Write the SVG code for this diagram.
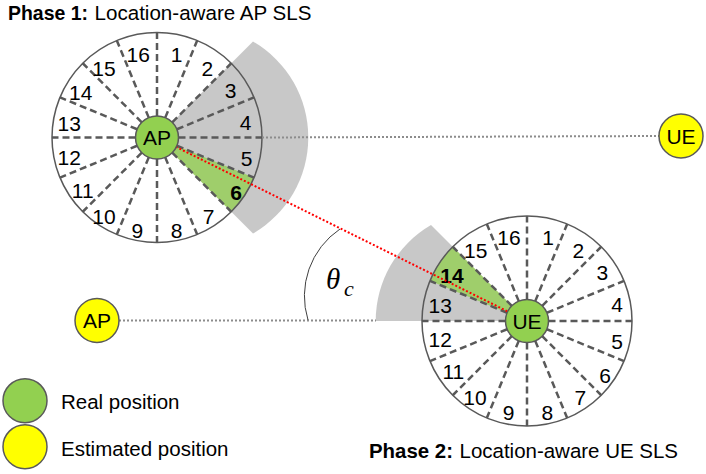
<svg xmlns="http://www.w3.org/2000/svg" xmlns:xlink="http://www.w3.org/1999/xlink" width="706" height="474" viewBox="0 0 706 474">
<style>
.rim{fill:none;stroke:#595959;stroke-width:1.5}
.dash{stroke:#595959;stroke-width:2.5;stroke-dasharray:7 4;fill:none}
.gray{fill:#c8c8c8}
.gsec{fill:#9fce6b}
.num{font-family:"Liberation Sans",Arial,sans-serif;font-size:21px;fill:#000;text-anchor:middle}
.b{font-weight:bold}
.lbl{font-family:"Liberation Sans",Arial,sans-serif;font-size:20.5px;fill:#000}
.node{stroke:#595959;stroke-width:1.5}
.real{fill:#92d050}
.est{fill:#ffff00}
.ntxt{font-family:"Liberation Sans",Arial,sans-serif;font-size:21px;fill:#000;text-anchor:middle}
.dot{stroke:#8c8c8c;stroke-width:2;stroke-dasharray:2 2;fill:none}
.red{stroke:#ff0000;stroke-width:2;stroke-dasharray:2 2;fill:none}
.arc{stroke:#404040;stroke-width:1;fill:none}
.math{font-family:"Liberation Serif","Times New Roman",serif;font-style:italic;fill:#000}
</style>
<defs>
<line id="ray" x1="21.5" y1="0" x2="105" y2="0" class="dash"/>
<g id="rays">
<use xlink:href="#ray" href="#ray" transform="rotate(0)"/>
<use xlink:href="#ray" href="#ray" transform="rotate(22.5)"/>
<use xlink:href="#ray" href="#ray" transform="rotate(45)"/>
<use xlink:href="#ray" href="#ray" transform="rotate(67.5)"/>
<use xlink:href="#ray" href="#ray" transform="rotate(90)"/>
<use xlink:href="#ray" href="#ray" transform="rotate(112.5)"/>
<use xlink:href="#ray" href="#ray" transform="rotate(135)"/>
<use xlink:href="#ray" href="#ray" transform="rotate(157.5)"/>
<use xlink:href="#ray" href="#ray" transform="rotate(180)"/>
<use xlink:href="#ray" href="#ray" transform="rotate(202.5)"/>
<use xlink:href="#ray" href="#ray" transform="rotate(225)"/>
<use xlink:href="#ray" href="#ray" transform="rotate(247.5)"/>
<use xlink:href="#ray" href="#ray" transform="rotate(270)"/>
<use xlink:href="#ray" href="#ray" transform="rotate(292.5)"/>
<use xlink:href="#ray" href="#ray" transform="rotate(315)"/>
<use xlink:href="#ray" href="#ray" transform="rotate(337.5)"/>
</g>
</defs>
<rect width="706" height="474" fill="#fff"/>

<!-- Titles -->
<g id="title-phase1">
<text class="lbl b" x="8" y="20" textLength="80" lengthAdjust="spacingAndGlyphs">Phase 1:</text>
<text class="lbl" x="94.5" y="20" textLength="217" lengthAdjust="spacingAndGlyphs">Location-aware AP SLS</text>
</g>
<g id="title-phase2">
<text class="lbl b" x="369" y="458" textLength="84" lengthAdjust="spacingAndGlyphs">Phase 2:</text>
<text class="lbl" x="459.5" y="458" textLength="218.5" lengthAdjust="spacingAndGlyphs">Location-aware UE SLS</text>
</g>

<!-- AP beam sectors -->
<g id="ap-sectors">
<circle cx="157" cy="137.5" r="105" fill="#fff"/>
<path class="gray" d="M157,137.5 L253,41.5 A111,111 0 0 1 253,233.5 Z"/>
<path class="gsec" d="M157,137.5 L254.01,177.68 A105,105 0 0 1 231.25,211.75 Z"/>
<use xlink:href="#rays" href="#rays" transform="translate(157,137.5)"/>
<circle class="rim" cx="157" cy="137.5" r="105"/>
<text class="num" x="138.3" y="61.5">16</text>
<text class="num" x="176.7" y="61.5">1</text>
<text class="num" x="207.3" y="75.8">2</text>
<text class="num" x="230.7" y="97.8">3</text>
<text class="num" x="245.7" y="129.5">4</text>
<text class="num" x="246.7" y="166.2">5</text>
<text class="num b" x="236" y="199.8">6</text>
<text class="num" x="208.7" y="223.5">7</text>
<text class="num" x="176.7" y="238.2">8</text>
<text class="num" x="137.3" y="238.2">9</text>
<text class="num" x="104" y="223.5">10</text>
<text class="num" x="82.7" y="198.2">11</text>
<text class="num" x="69.3" y="164.8">12</text>
<text class="num" x="69.3" y="131.2">13</text>
<text class="num" x="80.7" y="100.2">14</text>
<text class="num" x="104" y="76.2">15</text>
</g>

<!-- UE beam sectors -->
<g id="ue-sectors">
<circle cx="527" cy="321" r="105" fill="#fff"/>
<path class="gray" d="M527,321 L431,225 A111,111 0 0 0 375.7,321 Z"/>
<path class="gsec" d="M527,321 L429.99,280.82 A105,105 0 0 1 452.75,246.75 Z"/>
<use xlink:href="#rays" href="#rays" transform="translate(527,321)"/>
<circle class="rim" cx="527" cy="321" r="105"/>
<text class="num" x="509" y="244.5">16</text>
<text class="num" x="548" y="244.5">1</text>
<text class="num" x="578.3" y="257.8">2</text>
<text class="num" x="602.3" y="279.8">3</text>
<text class="num" x="617" y="311.5">4</text>
<text class="num" x="617" y="348.5">5</text>
<text class="num" x="605" y="382.5">6</text>
<text class="num" x="580.3" y="404.8">7</text>
<text class="num" x="547.3" y="420.2">8</text>
<text class="num" x="508.7" y="420.2">9</text>
<text class="num" x="475" y="404.8">10</text>
<text class="num" x="453.3" y="379.2">11</text>
<text class="num" x="440.3" y="346.5">12</text>
<text class="num" x="440.3" y="313.2">13</text>
<text class="num b" x="452" y="282.8">14</text>
<text class="num" x="475.7" y="258.2">15</text>
</g>

<!-- Connectors -->
<g id="connectors">
<line class="dot" x1="262" y1="137.5" x2="659" y2="136"/>
<line class="dot" x1="119" y1="320.5" x2="376" y2="320.5"/>
<line class="red" x1="175.8" y1="146.8" x2="508.2" y2="311.7"/>
<path class="arc" d="M308,320 A81,81 0 0 1 340,229"/>
</g>

<!-- Angle label -->
<g id="angle-label">
<text class="math" x="326" y="289" font-size="29">θ</text>
<text class="math" x="344" y="296" font-size="22">c</text>
</g>

<!-- Nodes -->
<g id="ap-real">
<circle class="node real" cx="157" cy="137.5" r="21.5"/>
<text class="ntxt" x="157" y="145">AP</text>
</g>
<g id="ue-real">
<circle class="node real" cx="527" cy="321" r="21.5"/>
<text class="ntxt" x="527" y="328.5">UE</text>
</g>
<g id="ue-est">
<circle class="node est" cx="681" cy="136" r="22"/>
<text class="ntxt" x="681" y="143.5">UE</text>
</g>
<g id="ap-est">
<circle class="node est" cx="97" cy="320.5" r="22"/>
<text class="ntxt" x="97" y="328">AP</text>
</g>

<!-- Legend -->
<g id="legend">
<circle class="node real" cx="25" cy="400.7" r="22"/>
<text class="lbl" x="61" y="409.3">Real position</text>
<circle class="node est" cx="25" cy="446.7" r="22"/>
<text class="lbl" x="61" y="455.7">Estimated position</text>
</g>
</svg>
